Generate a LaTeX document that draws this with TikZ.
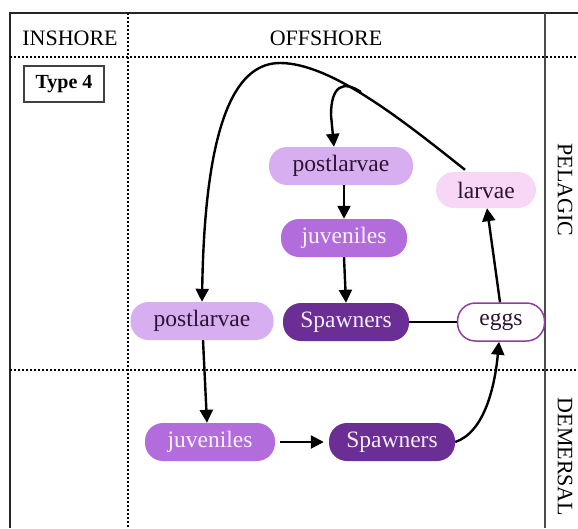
\documentclass[tikz,border=0pt]{standalone}
\usepackage{fontspec}
\setmainfont{Liberation Serif}
\usetikzlibrary{arrows.meta,calc}
\definecolor{plight}{HTML}{D7AEEF}
\definecolor{ppink}{HTML}{F8D6F6}
\definecolor{pmed}{HTML}{B36CDC}
\definecolor{pdark}{HTML}{6A2E94}
\definecolor{pborder}{HTML}{8E3E9C}
\definecolor{ptext}{HTML}{2A1432}
\tikzset{
  stage/.style={rectangle, rounded corners=18pt, minimum height=38pt, inner sep=0pt,
    font=\fontsize{23.5}{27}\selectfont},
  lightbox/.style={stage, fill=plight, text=ptext},
  pinkbox/.style={stage, fill=ppink, text=ptext},
  medbox/.style={stage, fill=pmed, text=white!92!pmed},
  darkbox/.style={stage, fill=pdark, text=white!92!pdark},
  eggbox/.style={stage, fill=white, draw=pborder, line width=1.5pt, text=ptext},
  hdr/.style={font=\fontsize{22}{26}\selectfont, inner sep=0pt},
  arr/.style={line width=2.4pt, -{Triangle[length=13pt,width=13pt]}},
  conn/.style={line width=2.4pt},
  dots/.style={line width=1.4pt, dash pattern=on 2pt off 2pt},
}
\begin{document}
\begin{tikzpicture}[x=1pt,y=-1pt]
\useasboundingbox (0,0) rectangle (578,528);
% frame
\draw[line width=2.4pt, black!85] (10,528) -- (10,13) -- (578,13);
\draw[line width=1.4pt, black!70] (545,13) -- (545,528);
\draw[dots] (10,57) -- (578,57);
\draw[dots] (10,370) -- (578,370);
\draw[dots] (128,13) -- (128,528);
% headers
\node[hdr] (hin) at (70,38) {INSHORE};
\node[hdr] (hoff) at (326,38) {OFFSHORE};
\node[hdr, rotate=-90] (hpel) at (565,190) {PELAGIC};
\node[hdr, rotate=-90] (hdem) at (565,457) {DEMERSAL};
\node[draw=black!75, line width=1.5pt, minimum width=80pt, minimum height=36pt, inner sep=0pt,
  font=\fontsize{20}{24}\selectfont\bfseries] (type) at (64,84) {Type 4};
% stages
\node[lightbox, minimum width=144pt] (plT) at (341,166) {postlarvae};
\node[pinkbox, minimum width=100pt, minimum height=36pt] (larvae) at (486,190) {larvae};
\node[medbox, minimum width=126pt] (juvT) at (344,238) {juveniles};
\node[darkbox, minimum width=126pt] (spT) at (346,322) {Spawners};
\node[eggbox, minimum width=87pt] (eggs) at (501,322) {eggs};
\node[lightbox, minimum width=143pt] (plL) at (202,321) {postlarvae};
\node[medbox, minimum width=130pt] (juvB) at (210,442) {juveniles};
\node[darkbox, minimum width=126pt] (spB) at (392,442) {Spawners};
% connectors
\draw[arr] ($(larvae.north)+(-21,-2)$) .. controls (400,118) and (330,63) .. (280,63)
  .. controls (240,63) and (205,110) .. (plL.north);
\coordinate (br) at (361,92);
\draw[arr] (br) .. controls (343,80) and (331,86) .. (331,115) -- ($(plT.north)+(-7,0)$);
\draw[arr] ($(plT.south)+(3,0)$) -- (juvT.north);
\draw[arr] (juvT.south) -- (spT.north);
\draw[conn] (spT.east) -- (eggs.west);
\draw[arr] ($(eggs.north)+(-1,0)$) -- ($(larvae.south)+(1,0)$);
\draw[arr] ($(plL.south)+(1,0)$) -- ($(juvB.north)+(-3,0)$);
\draw[arr, shorten <=5pt, shorten >=5pt] (juvB.east) -- (spB.west);
\draw[arr] (spB.east) .. controls (485,432) and (495,385) .. ($(eggs.south)+(-2,0)$);
\end{tikzpicture}
\end{document}
